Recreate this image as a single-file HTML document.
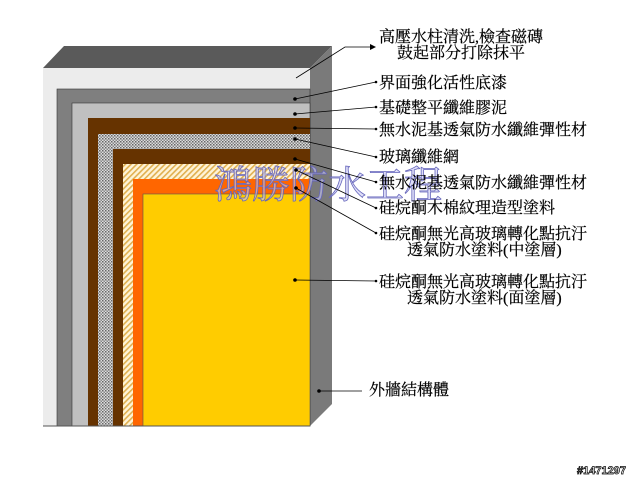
<!DOCTYPE html>
<html><head><meta charset="utf-8"><style>
body{margin:0;background:#fff;width:640px;height:480px;overflow:hidden;}
svg{display:block}
.t{font-family:"Liberation Serif","Noto Serif CJK SC","Noto Sans CJK TC",serif;font-size:16px;fill:#000;stroke:#000;stroke-width:0.2}
</style></head><body>
<svg width="640" height="480" viewBox="0 0 640 480">
<defs>
<pattern id="mesh" width="3" height="3" patternUnits="userSpaceOnUse"><rect width="3" height="3" fill="#ddd"/><rect width="1.5" height="1.5" fill="#666"/><rect x="1.5" y="1.5" width="1.5" height="1.5" fill="#888"/></pattern>
<pattern id="hatch" width="4" height="4" patternUnits="userSpaceOnUse" patternTransform="rotate(45)"><rect width="4" height="4" fill="#fff4d8"/><rect width="1.6" height="4" fill="#e0b050"/></pattern>
</defs>
<polygon points="43,68 64,46 332,46 310,68" fill="#5a5a5a"/>
<polygon points="310,68 332,46 332,404 310,426" fill="#7a7a7a"/>
<rect x="43" y="68" width="267" height="358" fill="#ececec"/>
<rect x="57" y="89" width="253" height="337" fill="#7f7f7f" stroke="#333" stroke-width="0.6"/>
<rect x="72" y="103" width="238" height="323" fill="#c0c0c0" stroke="#333" stroke-width="0.6"/>
<rect x="88" y="118" width="222" height="308" fill="#663300"/>
<rect x="98" y="134" width="212" height="292" fill="url(#mesh)"/>
<rect x="113" y="149" width="197" height="277" fill="#663300"/>
<rect x="123" y="164" width="187" height="262" fill="url(#hatch)"/>
<rect x="133" y="179" width="177" height="247" fill="#ff6600"/>
<rect x="143" y="194" width="167" height="232" fill="#ffcc00" stroke="#555" stroke-width="0.6"/>
<line x1="43" y1="426" x2="310" y2="426" stroke="#555" stroke-width="1"/>
<text x="214" y="198" font-family="'Noto Serif CJK SC','Noto Sans CJK TC',serif" font-size="38" fill="#c8c8f4" fill-opacity="0.6" stroke="#6666bb" stroke-width="0.8">鴻勝防水工程</text>
<g stroke="#000" stroke-width="0.8" fill="none">
<polyline points="296,78 345,47 370,47"/>
<line x1="295" y1="99" x2="376" y2="82"/>
<line x1="295" y1="114" x2="376" y2="107"/>
<line x1="295" y1="128" x2="376" y2="129"/>
<line x1="295" y1="139" x2="376" y2="157"/>
<line x1="295" y1="159" x2="376" y2="182"/>
<line x1="296" y1="170" x2="376" y2="208"/>
<line x1="296" y1="188" x2="376" y2="233"/>
<line x1="295" y1="280" x2="376" y2="281"/>
<line x1="319" y1="391" x2="362" y2="391"/>
</g>
<polygon points="370,44 376,47 370,50" fill="#000"/>
<g fill="#000">
<circle cx="295" cy="99" r="1.8"/><circle cx="295" cy="114" r="1.8"/><circle cx="295" cy="128" r="1.8"/><circle cx="295" cy="139" r="1.8"/><circle cx="295" cy="159" r="1.8"/><circle cx="296" cy="170" r="1.8"/><circle cx="296" cy="188" r="1.8"/><circle cx="295" cy="280" r="1.8"/><circle cx="319" cy="391" r="1.8"/>
<circle cx="376" cy="82" r="1.3"/><circle cx="376" cy="107" r="1.3"/><circle cx="376" cy="129" r="1.3"/><circle cx="376" cy="157" r="1.3"/><circle cx="376" cy="182" r="1.3"/><circle cx="376" cy="208" r="1.3"/><circle cx="376" cy="233" r="1.3"/><circle cx="376" cy="281" r="1.3"/>
</g>
<text class="t" x="379" y="42">高壓水柱清洗,檢查磁磚</text>
<text class="t" x="397" y="58">鼓起部分打除抹平</text>
<text class="t" x="379" y="88">界面強化活性底漆</text>
<text class="t" x="379" y="113">基礎整平纖維膠泥</text>
<text class="t" x="379" y="135">無水泥基透氣防水纖維彈性材</text>
<text class="t" x="379" y="162">玻璃纖維網</text>
<text class="t" x="379" y="188">無水泥基透氣防水纖維彈性材</text>
<text class="t" x="379" y="213">硅烷酮木棉紋理造型塗料</text>
<text class="t" x="379" y="239">硅烷酮無光高玻璃轉化點抗汙</text>
<text class="t" x="407" y="255">透氣防水塗料(中塗層)</text>
<text class="t" x="379" y="287">硅烷酮無光高玻璃轉化點抗汙</text>
<text class="t" x="407" y="303">透氣防水塗料(面塗層)</text>
<text class="t" x="369" y="395">外牆結構體</text>
<text x="577" y="474" font-family="'Liberation Sans',sans-serif" font-size="11" font-weight="bold" fill="#fff" stroke="#000" stroke-width="0.7">#1471297</text>
</svg>
</body></html>
